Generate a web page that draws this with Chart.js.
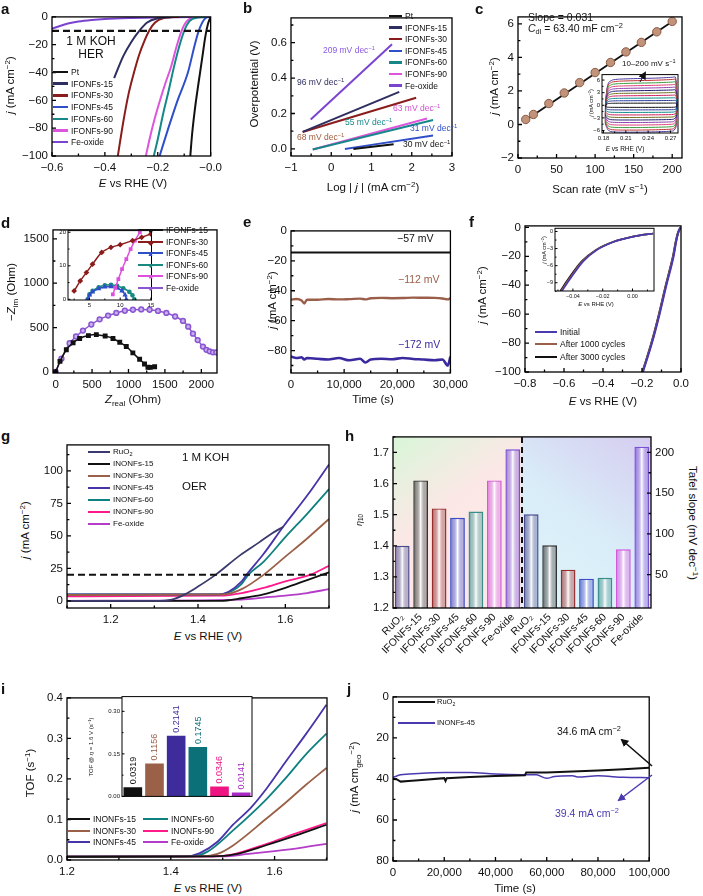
<!DOCTYPE html>
<html>
<head>
<meta charset="utf-8">
<title>HER / OER figure</title>
<script src="https://cdn.jsdelivr.net/npm/chart.js@4.4.1/dist/chart.umd.min.js"></script>
<style>
  body { margin: 0; background: #fff; }
  #fig { position: relative; width: 703px; height: 896px; overflow: hidden; font-family: 'Liberation Sans', Arial, sans-serif; color: #111; }
  #fig canvas { position: absolute; }
  .t { position: absolute; white-space: nowrap; line-height: 1; z-index: 5; }
  .t sup { font-size: 0.7em; vertical-align: 0.5em; line-height: 0; }
  .t sub { font-size: 0.7em; vertical-align: -0.3em; line-height: 0; }
  .sw { position: absolute; z-index: 5; }
</style>
</head>
<body>
<div id="fig"></div>
<script>
// ---------------- data ----------------
// a: HER polarisation, [E vs RHE (V), j (mA cm-2)]
const aPt  = [[0,0],[-0.01,-5],[-0.02,-14],[-0.03,-27],[-0.04,-40],[-0.05,-53],[-0.06,-67],[-0.07,-84],[-0.077,-100]];
const aI15 = [[-0.15,0],[-0.2,-1],[-0.24,-4],[-0.27,-10],[-0.3,-18],[-0.33,-28],[-0.365,-44]];
const aI30 = [[-0.12,0],[-0.18,-1],[-0.21,-4],[-0.23,-9],[-0.25,-17],[-0.27,-27],[-0.29,-40],[-0.31,-55],[-0.33,-75],[-0.351,-100]];
const aI45 = [[0,0],[-0.02,-1],[-0.045,-10],[-0.06,-20],[-0.086,-40],[-0.125,-60],[-0.16,-80],[-0.193,-100]];
const aI60 = [[0,0],[-0.05,-0.5],[-0.08,-3],[-0.1,-10],[-0.12,-22],[-0.14,-37],[-0.16,-54],[-0.18,-70],[-0.2,-88],[-0.215,-100]];
const aI90 = [[0,0],[-0.06,-0.5],[-0.09,-3],[-0.11,-10],[-0.13,-22],[-0.15,-36],[-0.17,-47],[-0.19,-59],[-0.21,-72],[-0.23,-87],[-0.245,-100]];
const aFe  = [[-0.6,-8.5],[-0.57,-6.5],[-0.54,-4.8],[-0.5,-3.3],[-0.45,-2.2],[-0.4,-1.5],[-0.3,-0.8],[-0.2,-0.4],[0,0]];
const aRef = [[-0.6,-10],[0,-10]];
const aXv = [-0.6,-0.4,-0.2,0], aXl = ['−0.6','−0.4','−0.2','−0.0'];
const aYv = [-100,-80,-60,-40,-20,0], aYl = ['−100','−80','−60','−40','−20','0'];

// b: Tafel lines, [log j, overpotential (V)]
const bPt  = [[0.55,0],[1.55,0.027]];
const bI15 = [[-0.71,0.096],[1.69,0.322]];
const bI30 = [[-0.71,0.096],[2.11,0.289]];
const bI45 = [[0.34,0],[2.53,0.076]];
const bI60 = [[-0.46,-0.003],[2.53,0.163]];
const bI90 = [[-0.46,-0.003],[2.38,0.172]];
const bFe  = [[-0.51,0.166],[1.51,0.591]];
const bXv = [-1,0,1,2,3], bXl = ['−1','0','1','2','3'];
const bYv = [0,0.2,0.4,0.6], bYl = ['0.0','0.2','0.4','0.6'];

// c: double-layer current vs scan rate
const cRate = [10,20,40,60,80,100,120,140,160,180,200];
const cJ    = [0.3,0.6,1.25,1.88,2.5,3.1,3.7,4.33,4.9,5.53,6.15];
const cFit  = [[8,0.2],[202,6.2]];
const cXv = [0,50,100,150,200], cXl = ['0','50','100','150','200'];
const cYv = [-2,0,2,4,6], cYl = ['−2','0','2','4','6'];
// c inset: CV loops 10-200 mV/s (loop outline and half-height of each loop)
const cvX     = [0.1825,0.183,0.1845,0.187,0.192,0.2,0.22,0.25,0.272,0.2765,0.278,0.2785,0.2775,0.274,0.26,0.23,0.2,0.19,0.186,0.184,0.1825];
const cvShape = [-0.7,0.1,0.6,0.85,0.94,0.97,0.99,1.01,1.04,1.05,0.8,0,-0.8,-0.95,-0.98,-1,-1,-0.98,-0.92,-0.8,-0.7];
const cvAmp   = [0.5,1.1,1.7,2.3,2.9,3.5,4.1,4.7,5.3,5.9,6.4];
const cvCol   = ['#111','#2a3a9a','#0b8a8a','#d02060','#707020','#202070','#9040b0','#e0407a','#3a9a3a','#c03030','#4a3aa0'];
const ciXv = [0.18,0.21,0.24,0.27], ciXl = ['0.18','0.21','0.24','0.27'];
const ciYv = [-6,-3,0,3,6], ciYl = ['−6','−3','0','3','6'];

// d: Nyquist plots, [Z real, -Z im] (Ohm)
const dI15 = [[0,0],[60,120],[147,251],[240,330],[330,378],[450,410],[559,421],[680,405],[787,378],[880,335],[970,287],[1060,215],[1153,144],[1220,90],[1267,54],[1300,52],[1359,60]];
const dFe  = [[0,0],[80,150],[192,324],[280,400],[375,467],[490,535],[604,593],[720,635],[833,665],[950,690],[1061,701],[1175,705],[1290,701],[1405,688],[1520,665],[1640,625],[1748,575],[1820,510],[1885,432],[1950,360],[2022,287],[2070,250],[2114,233],[2160,222],[2206,222]];
const dI30 = [[2.5,2.5],[3.5,5.5],[4.5,8],[5.5,10.5],[7,14],[8.5,15.5],[10,16.3],[12,17.5],[13.5,18.5],[15,19.5]];
const dI45 = [[4.7,0],[5,1.3],[5.5,2.2],[6.5,3.2],[7.5,3.7],[8.5,3.8],[9.5,3.4],[10.3,2.5],[10.8,1.3],[11,0]];
const dI60 = [[4.7,0],[5,1.5],[5.5,2.5],[6.5,3.6],[7.5,4.2],[8.5,4.3],[9.5,4],[10.5,3.3],[11.5,2.2],[12,1.2],[12.3,0]];
const dI90 = [[8.8,1.5],[9.2,3.5],[9.7,6],[10.3,9],[11,12],[11.7,15],[12.4,17.5],[13.2,20]];
const dXv = [0,500,1000,1500,2000], dXl = ['0','500','1000','1500','2000'];
const dYv = [0,500,1000,1500], dYl = ['0','500','1000','1500'];
const diXv = [5,10,15], diXl = ['5','10','15'];
const diYv = [0,10,20], diYl = ['0','10','20'];

// e: chronoamperometry
const eT = [0,1000,2000,2500,3000,5000,7000,9000,11000,13000,14000,15000,17000,19000,21000,23000,25000,27000,28500,29500,30000];
const eB = [-46,-45.5,-46.5,-48.5,-46,-46,-45.5,-45.8,-45.6,-45.3,-45.8,-45,-44.8,-45,-44.9,-44.6,-44.7,-44.8,-45.2,-45.8,-45];
const eN = [-84,-85,-84.5,-86,-85,-85.5,-86,-85,-86.5,-85.5,-88,-86,-85.5,-85.8,-85,-85.6,-86,-86.5,-86,-90,-84];
const eK = [[0,-14.5],[30000,-14.5]];
const eXv = [0,10000,20000,30000], eXl = ['0','10,000','20,000','30,000'];
const eYv = [-80,-60,-40,-20,0], eYl = ['−80','−60','−40','−20','0'];

// f: cycling stability
const fInit = [[-0.195,-100],[-0.149,-80],[-0.11,-60],[-0.075,-40],[-0.038,-20],[-0.025,-10],[-0.015,-4],[-0.006,-1],[0,0]];
const f1000 = [[-0.197,-100],[-0.151,-80],[-0.112,-60],[-0.077,-40],[-0.04,-20],[-0.026,-10],[-0.016,-4],[-0.006,-1],[0,0]];
const f3000 = [[-0.198,-100],[-0.152,-80],[-0.113,-60],[-0.078,-40],[-0.041,-20],[-0.027,-10],[-0.016,-4],[-0.006,-1],[0,0]];
const fiInit = [[-0.0473,-10.45],[-0.0418,-8.3],[-0.0329,-5.2],[-0.024,-3.26],[-0.0129,-1.85],[0.0004,-0.9],[0.0138,-0.34]];
const fi1000 = [[-0.0479,-10.45],[-0.0424,-8.3],[-0.0335,-5.2],[-0.0244,-3.26],[-0.0131,-1.85],[0.0003,-0.9],[0.0138,-0.34]];
const fi3000 = [[-0.0485,-10.45],[-0.043,-8.3],[-0.034,-5.2],[-0.0248,-3.26],[-0.0133,-1.85],[0.0002,-0.9],[0.0138,-0.34]];
const fXv = [-0.8,-0.6,-0.4,-0.2,0], fXl = ['−0.8','−0.6','−0.4','−0.2','0.0'];
const fYv = [-100,-80,-60,-40,-20,0], fYl = ['−100','−80','−60','−40','−20','0'];
const fiXv = [-0.04,-0.02,0], fiXl = ['−0.04','−0.02','0.00'];
const fiYv = [-9,-6,-3,0], fiYl = ['−9','−6','−3','0'];

// g: OER polarisation
const gRu  = [[1.1,0],[1.3,0],[1.34,1],[1.37,5],[1.4,11],[1.44,20],[1.496,35],[1.54,45],[1.57,52],[1.595,57]];
const g15  = [[1.1,0],[1.45,0],[1.5,2],[1.55,5],[1.6,10],[1.65,16],[1.7,22]];
const g30  = [[1.1,4.5],[1.46,5],[1.5,9],[1.55,20],[1.6,34],[1.65,48],[1.7,63]];
const g45  = [[1.1,5],[1.45,5],[1.47,7],[1.5,15],[1.511,20],[1.55,36],[1.595,57],[1.65,81],[1.7,105]];
const g60  = [[1.1,5],[1.45,5],[1.48,8],[1.5,13],[1.515,20],[1.55,30],[1.6,49],[1.65,67],[1.7,86]];
const g90  = [[1.1,3.5],[1.45,4],[1.5,6],[1.55,10],[1.6,15],[1.656,20],[1.7,27]];
const gFe  = [[1.1,0],[1.5,1],[1.55,2.5],[1.6,4],[1.65,6],[1.7,9]];
const gRef = [[1.1,20],[1.7,20]];
const gXv = [1.2,1.4,1.6], gXl = ['1.2','1.4','1.6'];
const gYv = [0,25,50,75,100], gYl = ['0','25','50','75','100'];

// h: overpotential at 10 mA and Tafel slopes
const hNames = ['RuO₂','IFONFs-15','IFONFs-30','IFONFs-45','IFONFs-60','IFONFs-90','Fe-oxide'];
const hEta   = [1.40,1.61,1.52,1.49,1.51,1.61,1.71];
const hTafel = [124,86,56,45,46,81,207];
const hCol   = ['#4a4a8c','#333333','#962c2c','#3c4cc4','#3a8e8a','#d458dc','#7a50d4'];
const hYv = [1.2,1.3,1.4,1.5,1.6,1.7], hYl = ['1.2','1.3','1.4','1.5','1.6','1.7'];
const hY1v = [50,100,150,200], hY1l = ['50','100','150','200'];

// i: TOF curves and TOF at 1.6 V
const i15 = [[1.2,0.008],[1.48,0.009],[1.52,0.013],[1.585,0.037],[1.64,0.06],[1.7,0.087]];
const i30 = [[1.2,0.008],[1.46,0.009],[1.49,0.015],[1.52,0.036],[1.585,0.103],[1.62,0.14],[1.66,0.185],[1.7,0.227]];
const i45 = [[1.2,0.008],[1.43,0.009],[1.456,0.017],[1.49,0.045],[1.52,0.087],[1.555,0.13],[1.585,0.177],[1.62,0.24],[1.66,0.31],[1.7,0.383]];
const i60 = [[1.2,0.008],[1.44,0.009],[1.47,0.02],[1.52,0.073],[1.585,0.151],[1.62,0.2],[1.66,0.26],[1.7,0.312]];
const i90 = [[1.2,0.008],[1.48,0.009],[1.52,0.014],[1.585,0.04],[1.64,0.065],[1.7,0.091]];
const iFe = [[1.2,0.008],[1.5,0.009],[1.55,0.015],[1.6,0.022],[1.65,0.03],[1.7,0.04]];
const iNames = ['INONFs-15','INONFs-30','INONFs-45','INONFs-60','INONFs-90','Fe-oxide'];
const iTof   = [0.0319,0.1156,0.2141,0.1745,0.0346,0.0141];
const iCol   = ['#111111','#9a6048','#3e2c9c','#0b7078','#ee1482','#a828c4'];
const iXv = [1.2,1.4,1.6], iXl = ['1.2','1.4','1.6'];
const iYv = [0,0.1,0.2,0.3,0.4], iYl = ['0.0','0.1','0.2','0.3','0.4'];
const iiYv = [0,0.15,0.3], iiYl = ['0.00','0.15','0.30'];

// j: long-term OER stability
const jRu  = [[0,40],[1500,40.2],[3000,41.3],[6000,41],[10000,40.6],[20000,39.6],[20500,41],[21000,39.6],[30000,39.1],[40000,38.6],[51500,38.2],[52000,36.8],[60000,36.9],[70000,36.4],[80000,35.9],[90000,35.3],[100000,34.6]];
const jI45 = [[0,39.2],[3000,38],[10000,37.3],[20000,36.8],[30000,36.9],[40000,37.6],[50000,37.9],[56000,38],[60000,39.7],[63000,38.8],[70000,38.4],[72000,39],[80000,38.5],[90000,39.2],[100000,39.4]];
const jXv = [0,20000,40000,60000,80000,100000], jXl = ['0','20,000','40,000','60,000','80,000','100,000'];
const jYv = [0,20,40,60,80], jYl = ['0','20','40','60','80'];

// ---------------- helpers ----------------
Chart.defaults.font.family = "'Liberation Sans', Arial, sans-serif";
Chart.defaults.font.size = 11.5;
Chart.defaults.color = '#111';
Chart.defaults.animation = false;
Chart.defaults.plugins.legend.display = false;
Chart.defaults.plugins.tooltip.enabled = false;

// box frame with inward major / minor ticks
const frame = {
  id: 'frame',
  defaults: { lw: 1.3, len: 4, minor: true, skip: [], bg: null },
  beforeDraw(chart, args, o) {
    if (!o.bg) return;
    const a = chart.chartArea;
    chart.ctx.save();
    chart.ctx.fillStyle = o.bg;
    chart.ctx.fillRect(a.left, a.top, a.right - a.left, a.bottom - a.top);
    chart.ctx.restore();
  },
  afterDatasetsDraw(chart, args, o) {
    const { ctx, chartArea: a } = chart;
    ctx.save();
    ctx.strokeStyle = '#000';
    ctx.lineWidth = o.lw;
    ctx.strokeRect(a.left, a.top, a.right - a.left, a.bottom - a.top);
    ctx.beginPath();
    Object.values(chart.scales).forEach(s => {
      if (!s.options.display || o.skip.includes(s.id)) return;
      const ps = s.ticks.map((t, i) => s.getPixelForTick(i));
      const marks = ps.map(p => [p, o.len]);
      if (o.minor && ps.length > 1) {
        const d = ps[1] - ps[0];
        for (let i = -1; i < ps.length; i++) marks.push([ps[0] + d * (i + 0.5), o.len * 0.6]);
      }
      marks.forEach(([p, l]) => {
        if (s.isHorizontal()) {
          if (p < a.left - 0.5 || p > a.right + 0.5) return;
          ctx.moveTo(p, a.bottom); ctx.lineTo(p, a.bottom - l);
        } else {
          if (p < a.top - 0.5 || p > a.bottom + 0.5) return;
          if (s.position === 'right') { ctx.moveTo(a.right, p); ctx.lineTo(a.right - l, p); }
          else { ctx.moveTo(a.left, p); ctx.lineTo(a.left + l, p); }
        }
      });
    });
    ctx.stroke();
    ctx.restore();
  }
};
Chart.register(frame);

const fig = document.getElementById('fig');

function ax(min, max, vals, labs, o = {}) {
  return {
    type: 'linear', min, max, reverse: !!o.rev, position: o.pos || undefined,
    grid: { display: false, drawTicks: false }, border: { display: false },
    afterBuildTicks: s => { s.ticks = vals.map(v => ({ value: v })); },
    ticks: { autoSkip: false, maxRotation: 0, padding: o.pad ?? 4, font: { size: o.fs || 11.5 },
      callback: (v, i) => labs[i] }
  };
}

function L(pts, col, w, o = {}) {
  return Object.assign({
    data: pts.map(p => ({ x: p[0], y: p[1] })),
    borderColor: col, backgroundColor: col, borderWidth: w || 1.8,
    pointRadius: 0, cubicInterpolationMode: 'monotone'
  }, o);
}

// box = plot area on the page, pad = room for ticks [left, top, right, bottom]
function panel(box, pad, cfg, frameOpt) {
  const cv = document.createElement('canvas');
  const w = box[2] - box[0] + pad[0] + pad[2], h = box[3] - box[1] + pad[1] + pad[3];
  cv.width = w; cv.height = h;
  cv.style.cssText = `left:${box[0] - pad[0]}px;top:${box[1] - pad[1]}px;width:${w}px;height:${h}px`;
  fig.appendChild(cv);
  const sc = cfg.scales;
  sc.x.afterFit = s => { s.height = pad[3]; };
  sc.y.afterFit = s => { s.width = pad[0]; };
  if (sc.y1) sc.y1.afterFit = s => { s.width = pad[2]; };
  return new Chart(cv, {
    type: cfg.type || 'line',
    data: { labels: cfg.labels, datasets: cfg.ds },
    options: {
      responsive: false,
      layout: { padding: { top: pad[1], right: sc.y1 ? 0 : pad[2],
        bottom: sc.x.display === false ? pad[3] : 0, left: 0 } },
      scales: sc,
      plugins: { frame: frameOpt || {} }
    },
    plugins: cfg.plugins || []
  });
}

function T(html, x, y, o = {}) {
  const d = document.createElement('div');
  d.className = 't';
  d.innerHTML = html;
  d.style.left = x + 'px';
  d.style.top = y + 'px';
  d.style.fontSize = (o.s || 11.5) + 'px';
  if (o.c) d.style.color = o.c;
  if (o.b) d.style.fontWeight = 'bold';
  const tx = o.a === 'c' ? '-50%' : o.a === 'r' ? '-100%' : '0';
  d.style.transform = `translate(${tx},-50%)` + (o.r ? ` rotate(${o.r}deg)` : '');
  fig.appendChild(d);
}

function legend(x, y, dy, names, cols, o) {
  names.forEach((n, i) => {
    const yy = y + i * dy, lw = o.lw || 2;
    const d = document.createElement('div');
    d.className = 'sw';
    d.style.cssText = `left:${x}px;top:${yy - lw / 2}px;width:${o.len}px;height:${lw}px;background:${cols[i]}`;
    fig.appendChild(d);
    if (o.mk) T(o.mk[i], x + o.len / 2, yy, { a: 'c', c: cols[i], s: o.ms || 7 });
    T(n, x + o.len + (o.gap || 3), yy, { s: o.s || 8.5 });
  });
}

// ---------------- panel a ----------------
const colA = ['#111111','#2e2e60','#8b1c1c','#2f4fc9','#16888a','#dc55dc','#7b44d0'];
panel([52,12,215,156], [36,6,12,22], {
  ds: [L(aRef,'#111',2.2,{borderDash:[7,4]}), L(aPt,colA[0],2), L(aI15,colA[1],2), L(aI30,colA[2],2),
       L(aI45,colA[3],2), L(aI60,colA[4],2), L(aI90,colA[5],2), L(aFe,colA[6],2)],
  scales: { x: ax(-0.6, 0, aXv, aXl, {pad:5}), y: ax(-100, 0, aYv, aYl) }
});
legend(53, 72, 11.7, ['Pt','IFONFs-15','IFONFs-30','IFONFs-45','IFONFs-60','IFONFs-90','Fe-oxide'], colA, {len:15, lw:2.5, s:8.5});
T('1 M KOH', 91, 41, {a:'c', s:12});
T('HER', 91, 54, {a:'c', s:12});

// ---------------- panel b ----------------
panel([291,13,452,156], [40,6,12,22], {
  ds: [L(bPt,colA[0],2), L(bI15,colA[1],2), L(bI30,colA[2],2), L(bI45,colA[3],2),
       L(bI60,colA[4],2), L(bI90,colA[5],2), L(bFe,colA[6],2)],
  scales: { x: ax(-1, 3, bXv, bXl, {pad:5}), y: ax(-0.04, 0.74, bYv, bYl) }
});
legend(389, 16, 11.6, ['Pt','IFONFs-15','IFONFs-30','IFONFs-45','IFONFs-60','IFONFs-90','Fe-oxide'], colA, {len:13, lw:2.5, s:8.5});
T('209 mV dec<sup>−1</sup>', 323, 50, {s:8.5, c:'#8a5ae0'});
T('96 mV dec<sup>−1</sup>', 297, 82, {s:8.5, c:'#2e2e60'});
T('63 mV dec<sup>−1</sup>', 393, 108, {s:8.5, c:'#d050d0'});
T('55 mV dec<sup>−1</sup>', 345, 122, {s:8.5, c:'#16888a'});
T('68 mV dec<sup>−1</sup>', 297, 137, {s:8.5, c:'#a05a3a'});
T('31 mV dec<sup>−1</sup>', 410, 128, {s:8.5, c:'#2f4fc9'});
T('30 mV dec<sup>−1</sup>', 403, 144, {s:8.5});

// ---------------- panel c ----------------
panel([518,12,682,158], [30,6,12,22], {
  ds: [
    { type: 'scatter', data: cRate.map((r, i) => ({ x: r, y: cJ[i] })), pointRadius: 4.2,
      pointBackgroundColor: '#c0937a', pointBorderColor: '#8a5a44', pointBorderWidth: 1 },
    L(cFit, '#111', 1.8)
  ],
  scales: { x: ax(0, 212.7, cXv, cXl, {pad:5}), y: ax(-2, 6.42, cYv, cYl) }
});
T('Slope = 0.031', 528, 17, {s:10.5});
T('<i>C</i><sub>dl</sub> = 63.40 mF cm<sup>−2</sup>', 528, 28, {s:10.5});
panel([602,72,678,133], [14,3,5,10], {
  ds: cvAmp.map((a, k) => L(cvX.map((x, i) => [x, a * cvShape[i]]), cvCol[k], 1,
        { cubicInterpolationMode: 'default', tension: 0.15 })),
  scales: { x: ax(0.178, 0.2801, ciXv, ciXl, {fs:6, pad:2}), y: ax(-6.6, 7.3, ciYv, ciYl, {fs:6, pad:2}) }
}, { lw: 1, len: 2.5, bg: '#fff' });
T('10–200 mV s<sup>−1</sup>', 622, 64, {s:8});
T('<i>j</i> (mA cm<sup>−2</sup>)', 592, 103, {a:'c', r:-90, s:5.5});
T('<i>E</i> vs RHE (V)', 625, 149, {a:'c', s:6.5});

// ---------------- panel d ----------------
const colD = ['#111111','#8b1c1c','#2f4fc9','#1a8a80','#dc50dc','#8a55d0'];
panel([53,225,217,373], [42,6,14,22], {
  ds: [L(dI15, colD[0], 1.5, { pointRadius: 2.4, pointStyle: 'rect', cubicInterpolationMode: 'default', tension: 0.3 }),
       L(dFe, colD[5], 1.5, { pointRadius: 2.4, pointStyle: 'circle', pointBackgroundColor: '#c8b0f0',
         cubicInterpolationMode: 'default', tension: 0.3 })],
  scales: { x: ax(-36, 2215, dXv, dXl, {pad:5}), y: ax(-11, 1600, dYv, dYl) }
});
panel([68,228,153,300], [10,3,4,10], {
  ds: [L(dI30, colD[1], 1.5, { pointRadius: 1.8, pointStyle: 'rectRot', cubicInterpolationMode: 'default', tension: 0.3 }),
       L(dI90, colD[4], 1.5, { pointRadius: 1.6, pointStyle: 'rect', cubicInterpolationMode: 'default', tension: 0.3 }),
       L(dI45, colD[2], 1.5, { pointRadius: 1.6, pointStyle: 'triangle', cubicInterpolationMode: 'default', tension: 0.4 }),
       L(dI60, colD[3], 1.5, { pointRadius: 1.6, pointStyle: 'circle', cubicInterpolationMode: 'default', tension: 0.4 })],
  scales: { x: ax(1.5, 15.1, diXv, diXl, {fs:6, pad:2}), y: ax(-0.2, 20.5, diYv, diYl, {fs:6, pad:2}) }
}, { lw: 1, len: 2.5, bg: '#fff' });
legend(138, 230, 11.6, ['IFONFs-15','IFONFs-30','IFONFs-45','IFONFs-60','IFONFs-90','Fe-oxide'], colD,
  {len:25, lw:2, s:8.5, mk:['■','◆','▲','●','■','●'], ms:7});

// ---------------- panel e ----------------
panel([291,226,453,373], [40,6,20,22], {
  ds: [L(eK, '#111', 2), L(eT.map((t, i) => [t, eB[i]]), '#9a5e4a', 2.4),
       L(eT.map((t, i) => [t, eN[i]]), '#3a2aa0', 2.6)],
  scales: { x: ax(0, 30000, eXv, eXl, {pad:5}), y: ax(-95, 0, eYv, eYl) }
});
T('−57 mV', 397, 238, {s:10.5});
T('−112 mV', 398, 279, {s:10.5, c:'#9a5e4a'});
T('−172 mV', 398, 344, {s:10.5, c:'#3a2aa0'});

// ---------------- panel f ----------------
const colF = ['#4a3ab0','#9a5e4a','#111111'];
panel([525,221,681,372], [42,6,14,22], {
  ds: [L(fInit, colF[0], 2), L(f1000, colF[1], 2), L(f3000, colF[2], 2)],
  scales: { x: ax(-0.8, 0, fXv, fXl, {pad:5}), y: ax(-100, 1, fYv, fYl) }
});
panel([555,226,654,291], [14,3,6,10], {
  ds: [L(fiInit, colF[0], 1.6), L(fi1000, colF[1], 1.6), L(fi3000, colF[2], 1.6)],
  scales: { x: ax(-0.052, 0.0144, fiXv, fiXl, {fs:5.5, pad:2}), y: ax(-10.45, 0.56, fiYv, fiYl, {fs:5.5, pad:2}) }
}, { lw: 1, len: 2.5, bg: '#fff' });
T('<i>j</i> (mA cm<sup>−2</sup>)', 545, 250, {a:'c', r:-90, s:5.5});
T('<i>E</i> vs RHE (V)', 596, 304, {a:'c', s:6});
legend(535, 332, 12.3, ['Initial','After 1000 cycles','After 3000 cycles'], colF, {len:22, lw:2, s:8.5});

// ---------------- panel g ----------------
const colG = ['#3b3a6e','#111111','#9a6048','#4634a8','#0f8080','#ff1a8c','#b43cc8'];
panel([67,440,329,608], [30,6,12,22], {
  ds: [L(gRef,'#111',2,{borderDash:[7,4]}), L(gRu,colG[0],1.8), L(g15,colG[1],1.8), L(g30,colG[2],1.8),
       L(g45,colG[3],1.8), L(g60,colG[4],1.8), L(g90,colG[5],1.8), L(gFe,colG[6],1.8)],
  scales: { x: ax(1.1, 1.7, gXv, gXl, {pad:5}), y: ax(-5.5, 120, gYv, gYl) }
});
legend(88, 452, 12, ['RuO<sub>2</sub>','INONFs-15','INONFs-30','INONFs-45','INONFs-60','INONFs-90','Fe-oxide'], colG, {len:22, lw:2, s:8});
T('1 M KOH', 182, 458, {s:11.5});
T('OER', 182, 487, {s:11.5});

// ---------------- panel h ----------------
function barFill(c) {
  const col = hCol[c.dataIndex % 7];
  const ch = c.chart, x = ch.scales.x;
  if (c.type !== 'data' || !x) return col;
  const px = x.getPixelForTick(c.dataIndex), w = (x.getPixelForTick(1) - x.getPixelForTick(0)) * 0.4;
  const g = ch.ctx.createLinearGradient(px - w, 0, px + w, 0);
  g.addColorStop(0, col + 'dd'); g.addColorStop(0.2, col + '77'); g.addColorStop(0.5, '#ffffff');
  g.addColorStop(0.85, col + '55'); g.addColorStop(1, col + 'aa');
  return g;
}
const hBg = {
  id: 'hBg',
  beforeDatasetsDraw(chart) {
    const { ctx, chartArea: a, scales: { x } } = chart;
    const mid = (x.getPixelForTick(6) + x.getPixelForTick(7)) / 2;
    ctx.save();
    let g = ctx.createLinearGradient(a.left, a.top, mid, a.bottom);
    g.addColorStop(0, '#d8f6d8'); g.addColorStop(0.4, '#fbe8e6'); g.addColorStop(1, '#fde6ea');
    ctx.fillStyle = g; ctx.fillRect(a.left, a.top, mid - a.left, a.bottom - a.top);
    g = ctx.createLinearGradient(mid, a.bottom, a.right, a.top);
    g.addColorStop(0, '#ddf6fa'); g.addColorStop(0.5, '#d9ecf8'); g.addColorStop(1, '#d6ccf0');
    ctx.fillStyle = g; ctx.fillRect(mid, a.top, a.right - mid, a.bottom - a.top);
    ctx.restore();
  },
  afterDatasetsDraw(chart) {
    const { ctx, chartArea: a, scales: { x } } = chart;
    const mid = (x.getPixelForTick(6) + x.getPixelForTick(7)) / 2;
    ctx.save();
    ctx.strokeStyle = '#111'; ctx.lineWidth = 2; ctx.setLineDash([6, 4]);
    ctx.beginPath(); ctx.moveTo(mid, a.top); ctx.lineTo(mid, a.bottom); ctx.stroke();
    ctx.restore();
  }
};
const hPad = Array(7).fill(null);
panel([393,432,651,608], [32,6,34,56], {
  type: 'bar',
  labels: [...hNames, ...hNames],
  ds: [
    { data: [...hEta, ...hPad], yAxisID: 'y', backgroundColor: barFill, borderColor: c => hCol[c.dataIndex % 7],
      borderWidth: 1.4, grouped: false, barPercentage: 0.8, categoryPercentage: 1 },
    { data: [...hPad, ...hTafel], yAxisID: 'y1', backgroundColor: barFill, borderColor: c => hCol[c.dataIndex % 7],
      borderWidth: 1.4, grouped: false, barPercentage: 0.8, categoryPercentage: 1 }
  ],
  scales: {
    x: { type: 'category', offset: true, grid: { display: false, drawTicks: false }, border: { display: false },
         ticks: { autoSkip: false, minRotation: 45, maxRotation: 45, padding: 3, font: { size: 10.5 } } },
    y: ax(1.2, 1.75, hYv, hYl),
    y1: ax(9, 219, hY1v, hY1l, { pos: 'right' })
  },
  plugins: [hBg]
}, { skip: ['x'] });
T('<i>η</i><sub>10</sub>', 359, 520, {a:'c', r:-90, s:9});
T('Tafel slope (mV dec<sup>−1</sup>)', 692, 523, {a:'c', r:90, s:11.5});

// ---------------- panel i ----------------
const colI = ['#111111','#9a6048','#4634a8','#0f8080','#ff1a8c','#b43cc8'];
panel([67,693,327,860], [30,6,12,22], {
  ds: [L(i15,colI[0],1.8), L(i30,colI[1],1.8), L(i45,colI[2],1.8), L(i60,colI[3],1.8), L(i90,colI[4],1.8), L(iFe,colI[5],1.8)],
  scales: { x: ax(1.2, 1.701, iXv, iXl, {pad:5}), y: ax(0, 0.4, iYv, iYl) }
});
const barVals = {
  id: 'barVals',
  afterDatasetsDraw(chart) {
    const ctx = chart.ctx;
    chart.getDatasetMeta(0).data.forEach((el, i) => {
      ctx.save();
      ctx.translate(el.x + 0.5, el.y - 3);
      ctx.rotate(-Math.PI / 2);
      ctx.font = "9px 'Liberation Sans', Arial, sans-serif";
      ctx.fillStyle = iCol[i];
      ctx.textAlign = 'left'; ctx.textBaseline = 'middle';
      ctx.fillText(String(iTof[i]), 0, 0);
      ctx.restore();
    });
  }
};
panel([122,693,252,800], [16,2,2,2], {
  type: 'bar',
  labels: iNames,
  ds: [{ data: iTof, backgroundColor: iCol, borderWidth: 0, barPercentage: 0.86, categoryPercentage: 1 }],
  scales: { x: { type: 'category', display: false, offset: true }, y: ax(0, 0.352, iiYv, iiYl, {fs:6, pad:2}) },
  plugins: [barVals]
}, { lw: 1, len: 2.5, bg: '#fff' });
T('TOF @ <i>η</i> = 1.6 V (s<sup>−1</sup>)', 91, 747, {a:'c', r:-90, s:6});
legend(68, 819, 11.5, ['INONFs-15','INONFs-30','INONFs-45'], colI.slice(0, 3), {len:22, lw:2, s:8.5});
legend(143, 819, 11.5, ['INONFs-60','INONFs-90','Fe-oxide'], colI.slice(3), {len:25, lw:2, s:8.5});

// ---------------- panel j ----------------
panel([393,692,653,861], [30,6,22,22], {
  ds: [L(jRu, '#111', 2, { cubicInterpolationMode: 'default' }), L(jI45, '#4a3ab0', 1.5)],
  scales: { x: ax(0, 100000, jXv, jXl, {pad:5}), y: ax(0, 80, jYv, jYl, { rev: true }) }
});
legend(398, 702, 21, ['RuO<sub>2</sub>','INONFs-45'], ['#111','#4a3ab0'], {len:37, lw:1.8, s:7.5, gap:2});
T('34.6 mA cm<sup>−2</sup>', 557, 731, {s:10.5});
T('39.4 mA cm<sup>−2</sup>', 555, 813, {s:10.5, c:'#4a3ab0'});

// arrows
fig.insertAdjacentHTML('beforeend',
  `<svg width="703" height="896" style="position:absolute;left:0;top:0;z-index:6" xmlns="http://www.w3.org/2000/svg">
    <defs>
      <marker id="hk" markerWidth="8" markerHeight="8" refX="6" refY="4" orient="auto" markerUnits="userSpaceOnUse"><path d="M0,0 L8,4 L0,8 z" fill="#111"/></marker>
      <marker id="hb" markerWidth="8" markerHeight="8" refX="6" refY="4" orient="auto" markerUnits="userSpaceOnUse"><path d="M0,0 L8,4 L0,8 z" fill="#4a3ab0"/></marker>
    </defs>
    <line x1="652" y1="766" x2="622" y2="740" stroke="#111" stroke-width="1.5" marker-end="url(#hk)"/>
    <line x1="652" y1="775" x2="619" y2="800" stroke="#4a3ab0" stroke-width="1.5" marker-end="url(#hb)"/>
    <line x1="640" y1="82" x2="645" y2="73" stroke="#111" stroke-width="1" marker-end="url(#hk)"/>
  </svg>`);

// ---------------- axis titles and panel letters ----------------
T('<i>j</i> (mA cm<sup>−2</sup>)', 11, 85, {a:'c', r:-90});
T('<i>E</i> vs RHE (V)', 133, 184, {a:'c'});
T('Overpotential (V)', 255, 84, {a:'c', r:-90});
T('Log | <i>j</i> | (mA cm<sup>−2</sup>)', 373, 188, {a:'c'});
T('<i>j</i> (mA cm<sup>−2</sup>)', 495, 86, {a:'c', r:-90});
T('Scan rate (mV s<sup>−1</sup>)', 600, 190, {a:'c'});
T('−<i>Z</i><sub>im</sub> (Ohm)', 12, 292, {a:'c', r:-90});
T('<i>Z</i><sub>real</sub> (Ohm)', 133, 400, {a:'c'});
T('<i>j</i> (mA cm<sup>−2</sup>)', 273, 300, {a:'c', r:-90});
T('Time (s)', 373, 400, {a:'c'});
T('<i>j</i> (mA cm<sup>−2</sup>)', 483, 295, {a:'c', r:-90});
T('<i>E</i> vs RHE (V)', 603, 402, {a:'c'});
T('<i>j</i> (mA cm<sup>−2</sup>)', 26, 530, {a:'c', r:-90});
T('<i>E</i> vs RHE (V)', 208, 637, {a:'c'});
T('TOF (s<sup>−1</sup>)', 31, 773, {a:'c', r:-90});
T('<i>E</i> vs RHE (V)', 208, 889, {a:'c'});
T('<i>j</i> (mA cm<sub>geo</sub><sup>−2</sup>)', 355, 777, {a:'c', r:-90});
T('Time (s)', 515, 889, {a:'c'});

[['a',1,8],['b',243,7],['c',475,8],['d',1,222],['e',243,221],['f',469,221],['g',1,435],['h',345,435],['i',1,688],['j',347,688]]
  .forEach(([l, x, y]) => T(l, x, y, {b:true, s:15}));
</script>
</body>
</html>
